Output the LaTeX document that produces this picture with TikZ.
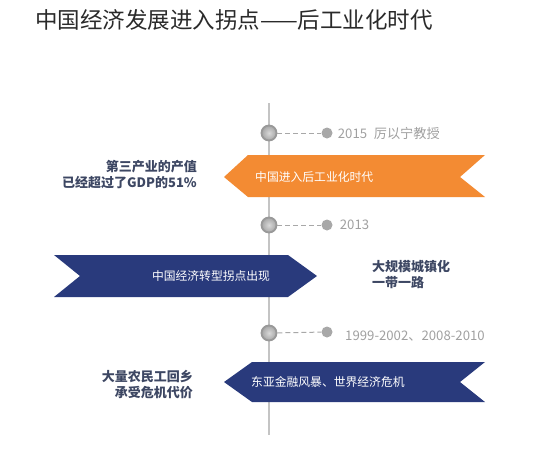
\documentclass[tikz,border=0pt]{standalone}
\usepackage{fontspec}
\setmainfont{Noto Sans CJK SC}
\usetikzlibrary{positioning}
\definecolor{BandOrange}{HTML}{F38B33}
\definecolor{BandNavy}{HTML}{293A7C}
\definecolor{NoteSlate}{HTML}{3D4763}
\definecolor{LineGray}{HTML}{C4C4C4}
\definecolor{DotGray}{HTML}{A8A8A8}
\definecolor{YearGray}{HTML}{A0A0A0}
\definecolor{TitleInk}{HTML}{2A2A2A}

\begin{document}
\begin{tikzpicture}[x=1pt, y=-1pt]
        \tikzstyle{headline} = [anchor=west, inner sep=0pt, font=\fontsize{22.5}{26}\selectfont, text=TitleInk]
        \tikzstyle{stopdot}  = [circle, draw=gray!80, line width=1.8pt, inner color=gray!30, outer color=gray!70, minimum size=15pt, inner sep=0pt]
        \tikzstyle{yeardot}  = [circle, fill=DotGray, minimum size=11pt, inner sep=0pt]
        \tikzstyle{leader}   = [draw=DotGray, line width=1pt, dash pattern=on 5pt off 3pt]
        \tikzstyle{year}     = [anchor=west, inner sep=0pt, font=\fontsize{13.2}{15}\selectfont, text=YearGray]
        \tikzstyle{bandtext} = [inner sep=0pt, font=\fontsize{11.8}{14}\selectfont, text=white]
        \tikzstyle{note}     = [inner sep=0pt, font=\fontsize{13}{16}\selectfont\bfseries, text=NoteSlate]

        \useasboundingbox (0,0) rectangle (538,458);

        % Title
        \node[headline] (title) at (35,20) {中国经济发展进入拐点——后工业化时代};

        % Timeline axis
        \coordinate (axistop) at (269,103);
        \coordinate (axisbottom) at (269,435);
        \draw[LineGray, line width=2pt] (axistop) -- (axisbottom);

        % Banners
        \fill[BandOrange] (224,177) -- (248,155) -- (485,155) -- (460,177) -- (485,197) -- (248,197) -- cycle;
        \fill[BandNavy] (54,255) -- (288,255) -- (317,276) -- (288,297) -- (54,297) -- (80,276) -- cycle;
        \fill[BandNavy] (224,382) -- (252,362) -- (485,362) -- (460,382) -- (485,402) -- (252,402) -- cycle;
        \node[bandtext, anchor=west] (postind) at (255,177) {中国进入后工业化时代};
        \node[bandtext] (turning) at (211,276) {中国经济转型拐点出现};
        \node[bandtext, anchor=west] (crisis) at (251,382) {东亚金融风暴、世界经济危机};

        % Stops on the axis
        \node[stopdot] (stop2015) at (269,133) {};
        \node[yeardot] (dot2015) at (327,133) {};
        \draw[leader] (stop2015) -- (dot2015);
        \node[year, right=5pt of dot2015] (year2015) {2015\enspace 厉以宁教授};

        \node[stopdot] (stop2013) at (269,225) {};
        \node[yeardot] (dot2013) at (327,225) {};
        \draw[leader] (stop2013) -- (dot2013);
        \node[year, right=7pt of dot2013] (year2013) {2013};

        \node[stopdot] (stop1999) at (269,333) {};
        \node[yeardot] (dot1999) at (327,332) {};
        \draw[leader] (stop1999) -- (dot1999);
        \node[year] (year1999) at (345,336) {1999-2002、2008-2010};

        % Side notes
        \node[note, anchor=east, align=right] (tertiary) at (197,175) {第三产业的产值\\已经超过了GDP的51\%};
        \node[note, anchor=west, align=left] (urban) at (372,274) {大规模城镇化\\一带一路};
        \node[note, anchor=east, align=right] (migrant) at (193,385) {大量农民工回乡\\承受危机代价};
    \end{tikzpicture}
\end{document}
